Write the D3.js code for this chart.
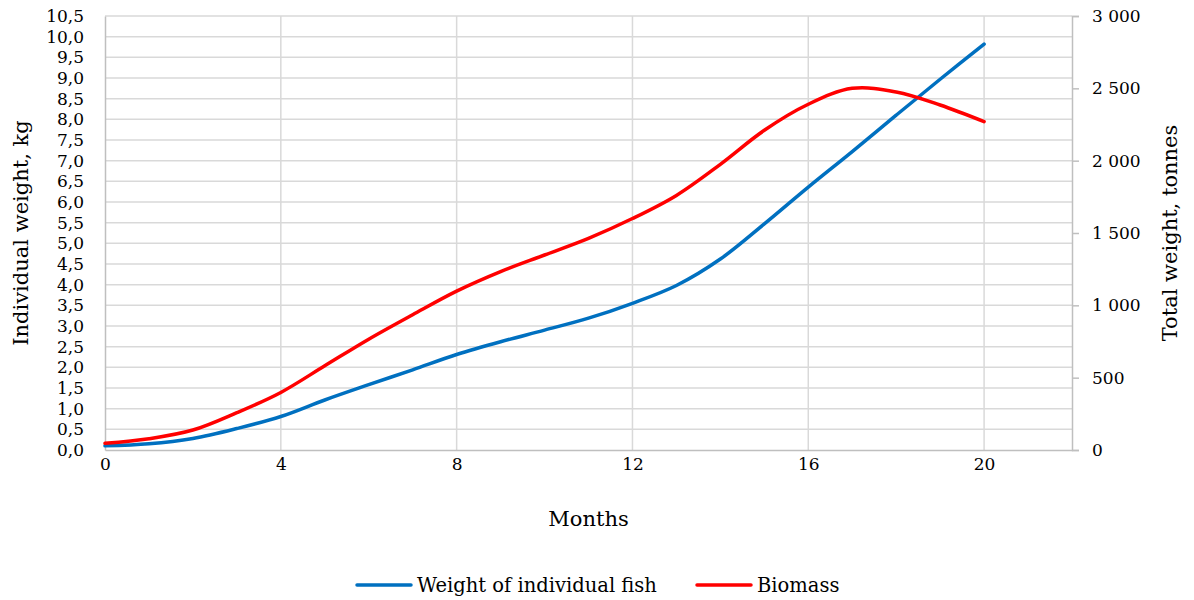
<!DOCTYPE html>
<html>
<head>
<meta charset="utf-8">
<script src="https://cdn.jsdelivr.net/npm/d3@7"></script>
<style>
  html, body { margin: 0; padding: 0; background: #fff; }
</style>
</head>
<body>
<svg id="chart" width="1194" height="600"></svg>
<script>
// Growth over time: individual fish weight (kg) and total stock biomass (tonnes)
const months = [0,1,2,3,4,5,6,7,8,9,10,11,12,13,14,15,16,17,18,19,20];
const fishWeight = [0.10,0.15,0.28,0.52,0.81,1.21,1.58,1.94,2.31,2.62,2.90,3.19,3.55,3.98,4.62,5.47,6.36,7.22,8.10,8.97,9.82];
const biomass = [46,78,138,258,398,582,766,935,1098,1233,1348,1463,1600,1760,1975,2210,2390,2500,2475,2385,2270];
const monthTicks = [0,4,8,12,16,20];
const seriesNames = ["Weight of individual fish", "Biomass"];
const seriesColors = ["#0070C0", "#FF0000"];

const FONT = "DejaVu Serif, serif";

const svg = d3.select("#chart").style("font-family", FONT);
const m = { left: 105, right: 1072, top: 16, bottom: 450 };

const x = d3.scaleLinear().domain([0, 22]).range([m.left, m.right]);
const yL = d3.scaleLinear().domain([0, 10.5]).range([m.bottom, m.top]);
const yR = d3.scaleLinear().domain([0, 3000]).range([m.bottom, m.top]);

const leftTicks = d3.range(0, 10.51, 0.5);
const rightTicks = d3.range(0, 3001, 500);
const comma = v => d3.format(".1f")(v).replace(".", ",");
const spaced = v => d3.format(",")(v).replace(/,/g, " ");

// horizontal gridlines
svg.append("g").selectAll("line").data(leftTicks.filter(v => v > 0)).join("line")
  .attr("x1", m.left).attr("x2", m.right)
  .attr("y1", d => yL(d)).attr("y2", d => yL(d))
  .attr("stroke", "#d9d9d9").attr("stroke-width", 1.5);

// vertical gridlines
svg.append("g").selectAll("line").data(d3.range(4, 21, 4)).join("line")
  .attr("x1", d => x(d)).attr("x2", d => x(d))
  .attr("y1", m.top).attr("y2", m.bottom)
  .attr("stroke", "#d9d9d9").attr("stroke-width", 1.5);

function styleAxis(g) {
  g.attr("font-family", null).style("font-family", FONT).attr("font-size", 17);
  g.select(".domain").attr("stroke", "#bfbfbf").attr("stroke-width", 1.5);
  g.selectAll(".tick line").attr("stroke", "#bfbfbf").attr("stroke-width", 1.5);
  g.selectAll("text").attr("fill", "#000");
}

// left axis
svg.append("g").attr("transform", `translate(${m.left},0)`)
  .call(d3.axisLeft(yL).tickValues(leftTicks).tickFormat(comma).tickSize(0).tickPadding(21))
  .call(styleAxis);

// right axis
svg.append("g").attr("transform", `translate(${m.right},0)`)
  .call(d3.axisRight(yR).tickValues(rightTicks).tickFormat(spaced).tickSize(7).tickPadding(13))
  .call(styleAxis);

// bottom axis
svg.append("g").attr("transform", `translate(0,${m.bottom})`)
  .call(d3.axisBottom(x).tickValues(monthTicks).tickFormat(d3.format("d")).tickSize(0).tickPadding(8))
  .call(styleAxis);

// axis titles
svg.append("text").attr("transform", `translate(28,${(m.top + m.bottom) / 2}) rotate(-90)`)
  .attr("text-anchor", "middle").attr("font-size", 21).text("Individual weight, kg");
svg.append("text").attr("transform", `translate(1177,${(m.top + m.bottom) / 2}) rotate(-90)`)
  .attr("text-anchor", "middle").attr("font-size", 21).text("Total weight, tonnes");
svg.append("text").attr("x", (m.left + m.right) / 2).attr("y", 526)
  .attr("text-anchor", "middle").attr("font-size", 21).text("Months");

// series lines (smoothed)
const curve = d3.curveCatmullRom.alpha(0.5);
const lineW = d3.line().x((d, i) => x(months[i])).y(d => yL(d)).curve(curve);
const lineB = d3.line().x((d, i) => x(months[i])).y(d => yR(d)).curve(curve);

svg.append("path").datum(fishWeight).attr("d", lineW)
  .attr("fill", "none").attr("stroke", seriesColors[0]).attr("stroke-width", 3.5)
  .attr("stroke-linecap", "round");
svg.append("path").datum(biomass).attr("d", lineB)
  .attr("fill", "none").attr("stroke", seriesColors[1]).attr("stroke-width", 3.5)
  .attr("stroke-linecap", "round");

// legend
const legendItems = [{ x: 357, name: seriesNames[0], color: seriesColors[0] },
                     { x: 697, name: seriesNames[1], color: seriesColors[1] }];
const lg = svg.append("g").selectAll("g").data(legendItems).join("g")
  .attr("transform", d => `translate(${d.x},585)`);
lg.append("line").attr("x1", 0).attr("x2", 54).attr("y1", 0).attr("y2", 0)
  .attr("stroke", d => d.color).attr("stroke-width", 3.5).attr("stroke-linecap", "round");
lg.append("text").attr("x", 60).attr("y", 7).attr("font-size", 19.5).text(d => d.name);
</script>
</body>
</html>
